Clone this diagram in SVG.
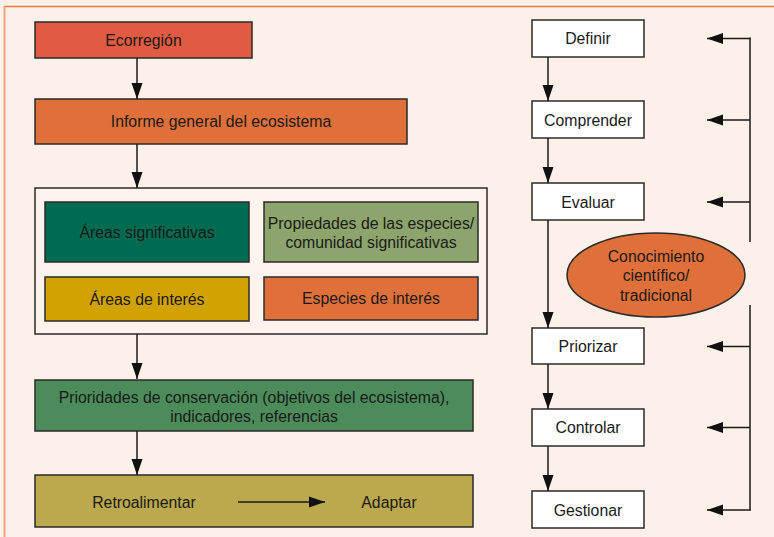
<svg xmlns="http://www.w3.org/2000/svg" width="774" height="537" viewBox="0 0 774 537">
<style>
text{font-family:"Liberation Sans",Arial,sans-serif;font-size:15.8px;fill:#1a1a1a;text-anchor:middle}
.box{stroke:#2a2a2a;stroke-width:1.5}
.w{fill:#ffffff}
.ln{stroke:#1a1a1a;stroke-width:1.5;fill:none}
.arr{marker-end:url(#ah)}
</style>
<defs>
<marker id="ah" markerUnits="userSpaceOnUse" markerWidth="16" markerHeight="12" refX="16" refY="6" orient="auto">
<path d="M0,0.5 L16,6 L0,11.5 z" fill="#111"/>
</marker>
</defs>
<rect x="0" y="0" width="774" height="537" fill="#FDF0E9"/>
<line x1="4" y1="6.5" x2="774" y2="6.5" stroke="#EE7A42" stroke-width="1.5"/>
<line x1="4.5" y1="6" x2="4.5" y2="537" stroke="#F0A282" stroke-width="2"/>

<g id="ecorregion"><rect class="box" x="35" y="22" width="217" height="36" fill="#E05B41"/><text x="143.5" y="45.5">Ecorregión</text></g>
<g id="informe"><rect class="box" x="35" y="99" width="372" height="45" fill="#E0703A"/><text x="221" y="127">Informe general del ecosistema</text></g>
<g id="contenedor"><rect class="box" x="35" y="188" width="452" height="146" fill="#FDF2EC"/></g>
<g id="areas-significativas"><rect class="box" x="45" y="202" width="204" height="60" fill="#006B50"/><text x="147" y="237.5">Áreas significativas</text></g>
<g id="propiedades"><rect class="box" x="264" y="202" width="214" height="60" fill="#8DA46C"/><text x="371" y="229">Propiedades de las especies/</text><text x="371" y="248">comunidad significativas</text></g>
<g id="areas-interes"><rect class="box" x="45" y="277" width="204" height="44" fill="#D1A202"/><text x="147" y="304.5">Áreas de interés</text></g>
<g id="especies-interes"><rect class="box" x="264" y="277" width="214" height="43" fill="#E0703A"/><text x="371" y="304">Especies de interés</text></g>
<g id="prioridades"><rect class="box" x="35" y="380" width="438" height="51" fill="#4C8C5B"/><text x="254" y="402.5">Prioridades de conservación (objetivos del ecosistema),</text><text x="254" y="421.5">indicadores, referencias</text></g>
<g id="retroalimentar"><rect class="box" x="35" y="475" width="438" height="52" fill="#BCA84D"/><text x="144" y="507.5">Retroalimentar</text><text x="389" y="507.5">Adaptar</text></g>

<g id="definir"><rect class="box w" x="532" y="20" width="112" height="37"/><text x="588" y="44">Definir</text></g>
<g id="comprender"><rect class="box w" x="532" y="101" width="112" height="37"/><text x="588" y="125.5">Comprender</text></g>
<g id="evaluar"><rect class="box w" x="532" y="183" width="112" height="37"/><text x="588" y="208">Evaluar</text></g>
<g id="priorizar"><rect class="box w" x="532" y="328" width="112" height="36"/><text x="588" y="352">Priorizar</text></g>
<g id="controlar"><rect class="box w" x="532" y="409" width="112" height="37"/><text x="588" y="433">Controlar</text></g>
<g id="gestionar"><rect class="box w" x="532" y="491" width="112" height="37"/><text x="588" y="515.5">Gestionar</text></g>
<g id="conocimiento"><ellipse class="box" cx="656" cy="275" rx="89" ry="42" fill="#E0703A"/><text x="656" y="262">Conocimiento</text><text x="656" y="281">científico/</text><text x="656" y="301">tradicional</text></g>

<g id="connectors">
<line class="ln arr" x1="137" y1="58" x2="137" y2="99"/>
<line class="ln arr" x1="137" y1="144" x2="137" y2="188"/>
<line class="ln arr" x1="137" y1="334" x2="137" y2="379"/>
<line class="ln arr" x1="137" y1="431" x2="137" y2="475"/>
<line class="ln arr" x1="238" y1="502" x2="325" y2="502"/>
<line class="ln arr" x1="548" y1="57" x2="548" y2="101"/>
<line class="ln arr" x1="548" y1="138" x2="548" y2="183"/>
<line class="ln arr" x1="548" y1="220" x2="548" y2="328"/>
<line class="ln arr" x1="548" y1="364" x2="548" y2="409"/>
<line class="ln arr" x1="548" y1="446" x2="548" y2="491"/>
<line class="ln" x1="750" y1="37.5" x2="750" y2="242"/>
<line class="ln arr" x1="750.5" y1="38.5" x2="707" y2="38.5"/>
<line class="ln arr" x1="750" y1="120" x2="707" y2="120"/>
<line class="ln arr" x1="750" y1="202" x2="707" y2="202"/>
<line class="ln" x1="750" y1="305" x2="750" y2="510.5"/>
<line class="ln arr" x1="750" y1="346.5" x2="707" y2="346.5"/>
<line class="ln arr" x1="750" y1="427.5" x2="707" y2="427.5"/>
<line class="ln arr" x1="750.5" y1="510" x2="707" y2="510"/>
</g>
</svg>
